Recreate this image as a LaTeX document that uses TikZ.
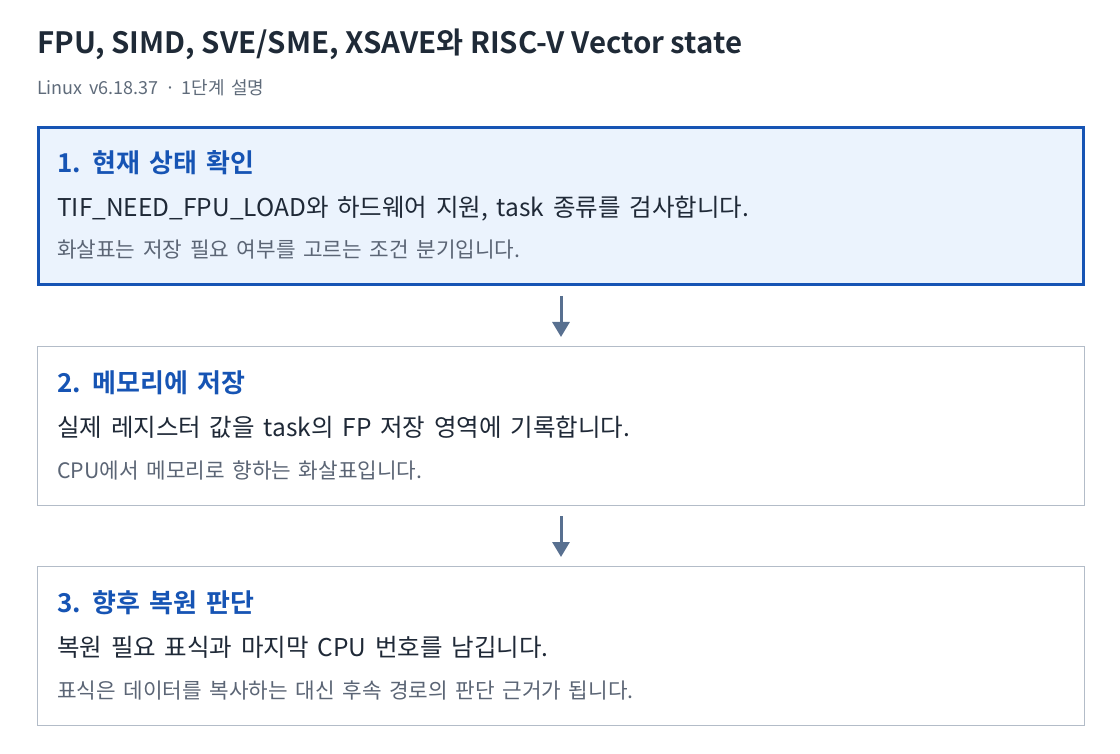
\documentclass[tikz,border=0pt]{standalone}
\usepackage{fontspec}
\setmainfont{Noto Sans CJK KR}[BoldFont={Noto Sans CJK KR Bold}]
\newfontfamily\spreadfont{Noto Sans CJK KR}[BoldFont={Noto Sans CJK KR Bold}, WordSpace=1.6]
\usetikzlibrary{positioning, arrows.meta}
\definecolor{TitleInk}{HTML}{1F2A37}
\definecolor{SubInk}{HTML}{5F6B7A}
\definecolor{StepBlue}{HTML}{1654B4}
\definecolor{StepFill}{HTML}{EBF3FD}
\definecolor{BodyInk}{HTML}{1F2937}
\definecolor{NoteInk}{HTML}{5B6575}
\definecolor{EdgeGray}{HTML}{B3BCC8}
\definecolor{ArrowInk}{HTML}{587090}
\tikzstyle{activebox} = [rectangle, minimum width=1045pt, minimum height=157pt, inner sep=0pt, draw=StepBlue, line width=3pt, fill=StepFill]
\tikzstyle{plainbox} = [rectangle, minimum width=1047pt, minimum height=159pt, inner sep=0pt, draw=EdgeGray, line width=1pt, fill=white]
\tikzstyle{headtext} = [anchor=base west, inner sep=0pt, text=StepBlue, font=\spreadfont\fontsize{26}{30}\selectfont\bfseries]
\tikzstyle{bodytext} = [anchor=base west, inner sep=0pt, text=BodyInk, font=\spreadfont\fontsize{24.5}{28}\selectfont]
\tikzstyle{notetext} = [anchor=base west, inner sep=0pt, text=NoteInk, font=\spreadfont\fontsize{21.3}{25}\selectfont]
\tikzstyle{arrow} = [line width=3pt, draw=ArrowInk, -{Triangle[width=17pt,length=15pt]}, shorten <=10pt, shorten >=9pt]
\begin{document}
\begin{tikzpicture}[x=1pt, y=-1pt, node distance=60pt]
\useasboundingbox (0,0) rectangle (1120,754);

\node (title) [anchor=base west, inner sep=0pt, text=TitleInk, font=\fontsize{29.4}{33}\selectfont\bfseries] at (37,53.5) {FPU, SIMD, SVE/SME, XSAVE와 RISC-V Vector state};
\node (sub) [anchor=base west, inner sep=0pt, text=SubInk, font=\spreadfont\fontsize{18}{22}\selectfont] at (37,95) {Linux v6.18.37 · 1단계 설명};

\node (step1) [activebox] at (561,206) {};
\node (step2) [plainbox, below=of step1] {};
\node (step3) [plainbox, below=of step2] {};

\node (head1) [headtext] at ([xshift=20pt,yshift=-46.5pt]step1.north west) {1. 현재 상태 확인};
\node (body1) [bodytext] at ([xshift=20pt,yshift=-90.5pt]step1.north west) {TIF\_NEED\_FPU\_LOAD와 하드웨어 지원, task 종류를 검사합니다.};
\node (note1) [notetext] at ([xshift=20pt,yshift=-132pt]step1.north west) {화살표는 저장 필요 여부를 고르는 조건 분기입니다.};

\node (head2) [headtext] at ([xshift=20pt,yshift=-46.5pt]step2.north west) {2. 메모리에 저장};
\node (body2) [bodytext] at ([xshift=20pt,yshift=-90.5pt]step2.north west) {실제 레지스터 값을 task의 FP 저장 영역에 기록합니다.};
\node (note2) [notetext] at ([xshift=20pt,yshift=-132pt]step2.north west) {CPU에서 메모리로 향하는 화살표입니다.};

\node (head3) [headtext] at ([xshift=20pt,yshift=-46.5pt]step3.north west) {3. 향후 복원 판단};
\node (body3) [bodytext] at ([xshift=20pt,yshift=-90.5pt]step3.north west) {복원 필요 표식과 마지막 CPU 번호를 남깁니다.};
\node (note3) [notetext] at ([xshift=20pt,yshift=-132pt]step3.north west) {표식은 데이터를 복사하는 대신 후속 경로의 판단 근거가 됩니다.};

\draw [arrow] (step1) -- (step2);
\draw [arrow] (step2) -- (step3);

\end{tikzpicture}
\end{document}
